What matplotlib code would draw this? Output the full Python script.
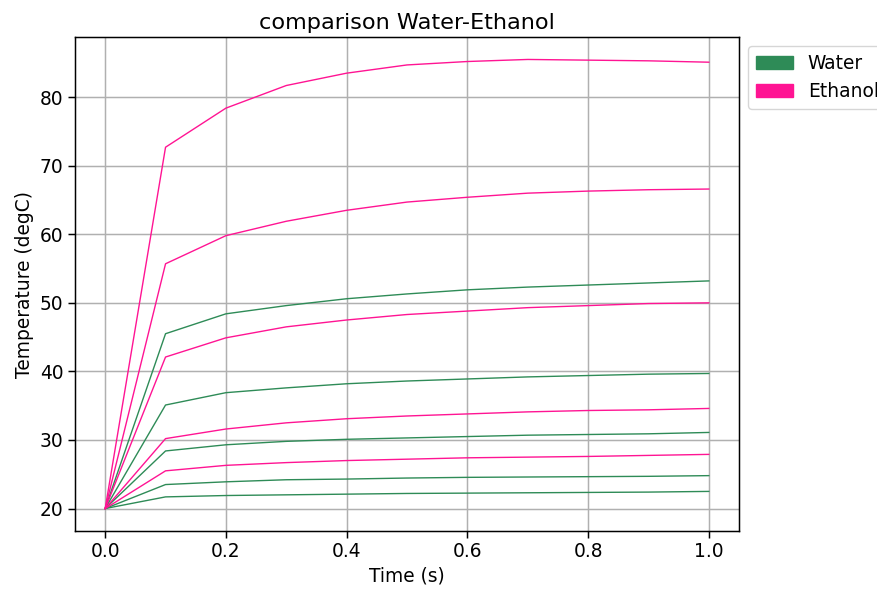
import numpy as np
import matplotlib
matplotlib.use('Agg')
import matplotlib.pyplot as plt
import matplotlib.patches as mpatches

time = [0.0, 0.1, 0.2, 0.3, 0.4, 0.5, 0.6, 0.7, 0.8, 0.9, 1.0]

# temperature curves (degC), one list per run
water = [
    [20.0, 45.5, 48.4, 49.6, 50.6, 51.3, 51.9, 52.3, 52.6, 52.9, 53.2],
    [20.0, 35.1, 36.9, 37.6, 38.2, 38.6, 38.9, 39.2, 39.4, 39.6, 39.7],
    [20.0, 28.4, 29.3, 29.8, 30.1, 30.3, 30.5, 30.7, 30.8, 30.9, 31.1],
    [20.0, 23.5, 23.9, 24.2, 24.3, 24.45, 24.55, 24.6, 24.65, 24.7, 24.8],
    [20.0, 21.7, 21.9, 22.0, 22.1, 22.2, 22.25, 22.3, 22.35, 22.4, 22.5],
]
ethanol = [
    [20.0, 72.7, 78.4, 81.7, 83.5, 84.7, 85.2, 85.5, 85.4, 85.3, 85.1],
    [20.0, 55.7, 59.8, 61.9, 63.5, 64.7, 65.4, 66.0, 66.3, 66.5, 66.6],
    [20.0, 42.1, 44.9, 46.5, 47.5, 48.3, 48.8, 49.3, 49.6, 49.9, 50.0],
    [20.0, 30.2, 31.6, 32.5, 33.1, 33.5, 33.8, 34.1, 34.3, 34.4, 34.6],
    [20.0, 25.5, 26.3, 26.7, 27.0, 27.2, 27.4, 27.5, 27.6, 27.75, 27.9],
]

s = 1.34
plt.rcParams['font.size'] = 10 * s

fig = plt.figure(figsize=(8.77, 5.92), dpi=100)
ax = fig.add_axes([75 / 877, 1 - 531 / 592, (739 - 75) / 877, (531 - 37) / 592])

for run in water:
    ax.plot(time, run, color='seagreen', linewidth=1.0)
for run in ethanol:
    ax.plot(time, run, color='deeppink', linewidth=1.0)

ax.grid(True, linewidth=0.8 * s, color='#b0b0b0')
ax.set_axisbelow(True)
for sp in ax.spines.values():
    sp.set_linewidth(0.8 * s)
ax.tick_params(width=0.8 * s, length=3.5 * s, labelsize=10 * s)
ax.set_xlabel('Time (s)', fontsize=10 * s)
ax.set_ylabel('Temperature (degC)', fontsize=10 * s)
ax.set_title('comparison Water-Ethanol', fontsize=12 * s)

handles = [mpatches.Patch(color='seagreen', label='Water'),
           mpatches.Patch(color='deeppink', label='Ethanol')]
ax.legend(handles=handles, loc='upper left', bbox_to_anchor=(1.0, 1.0),
          fontsize=10 * s)

fig.savefig('out.png', dpi=100)
